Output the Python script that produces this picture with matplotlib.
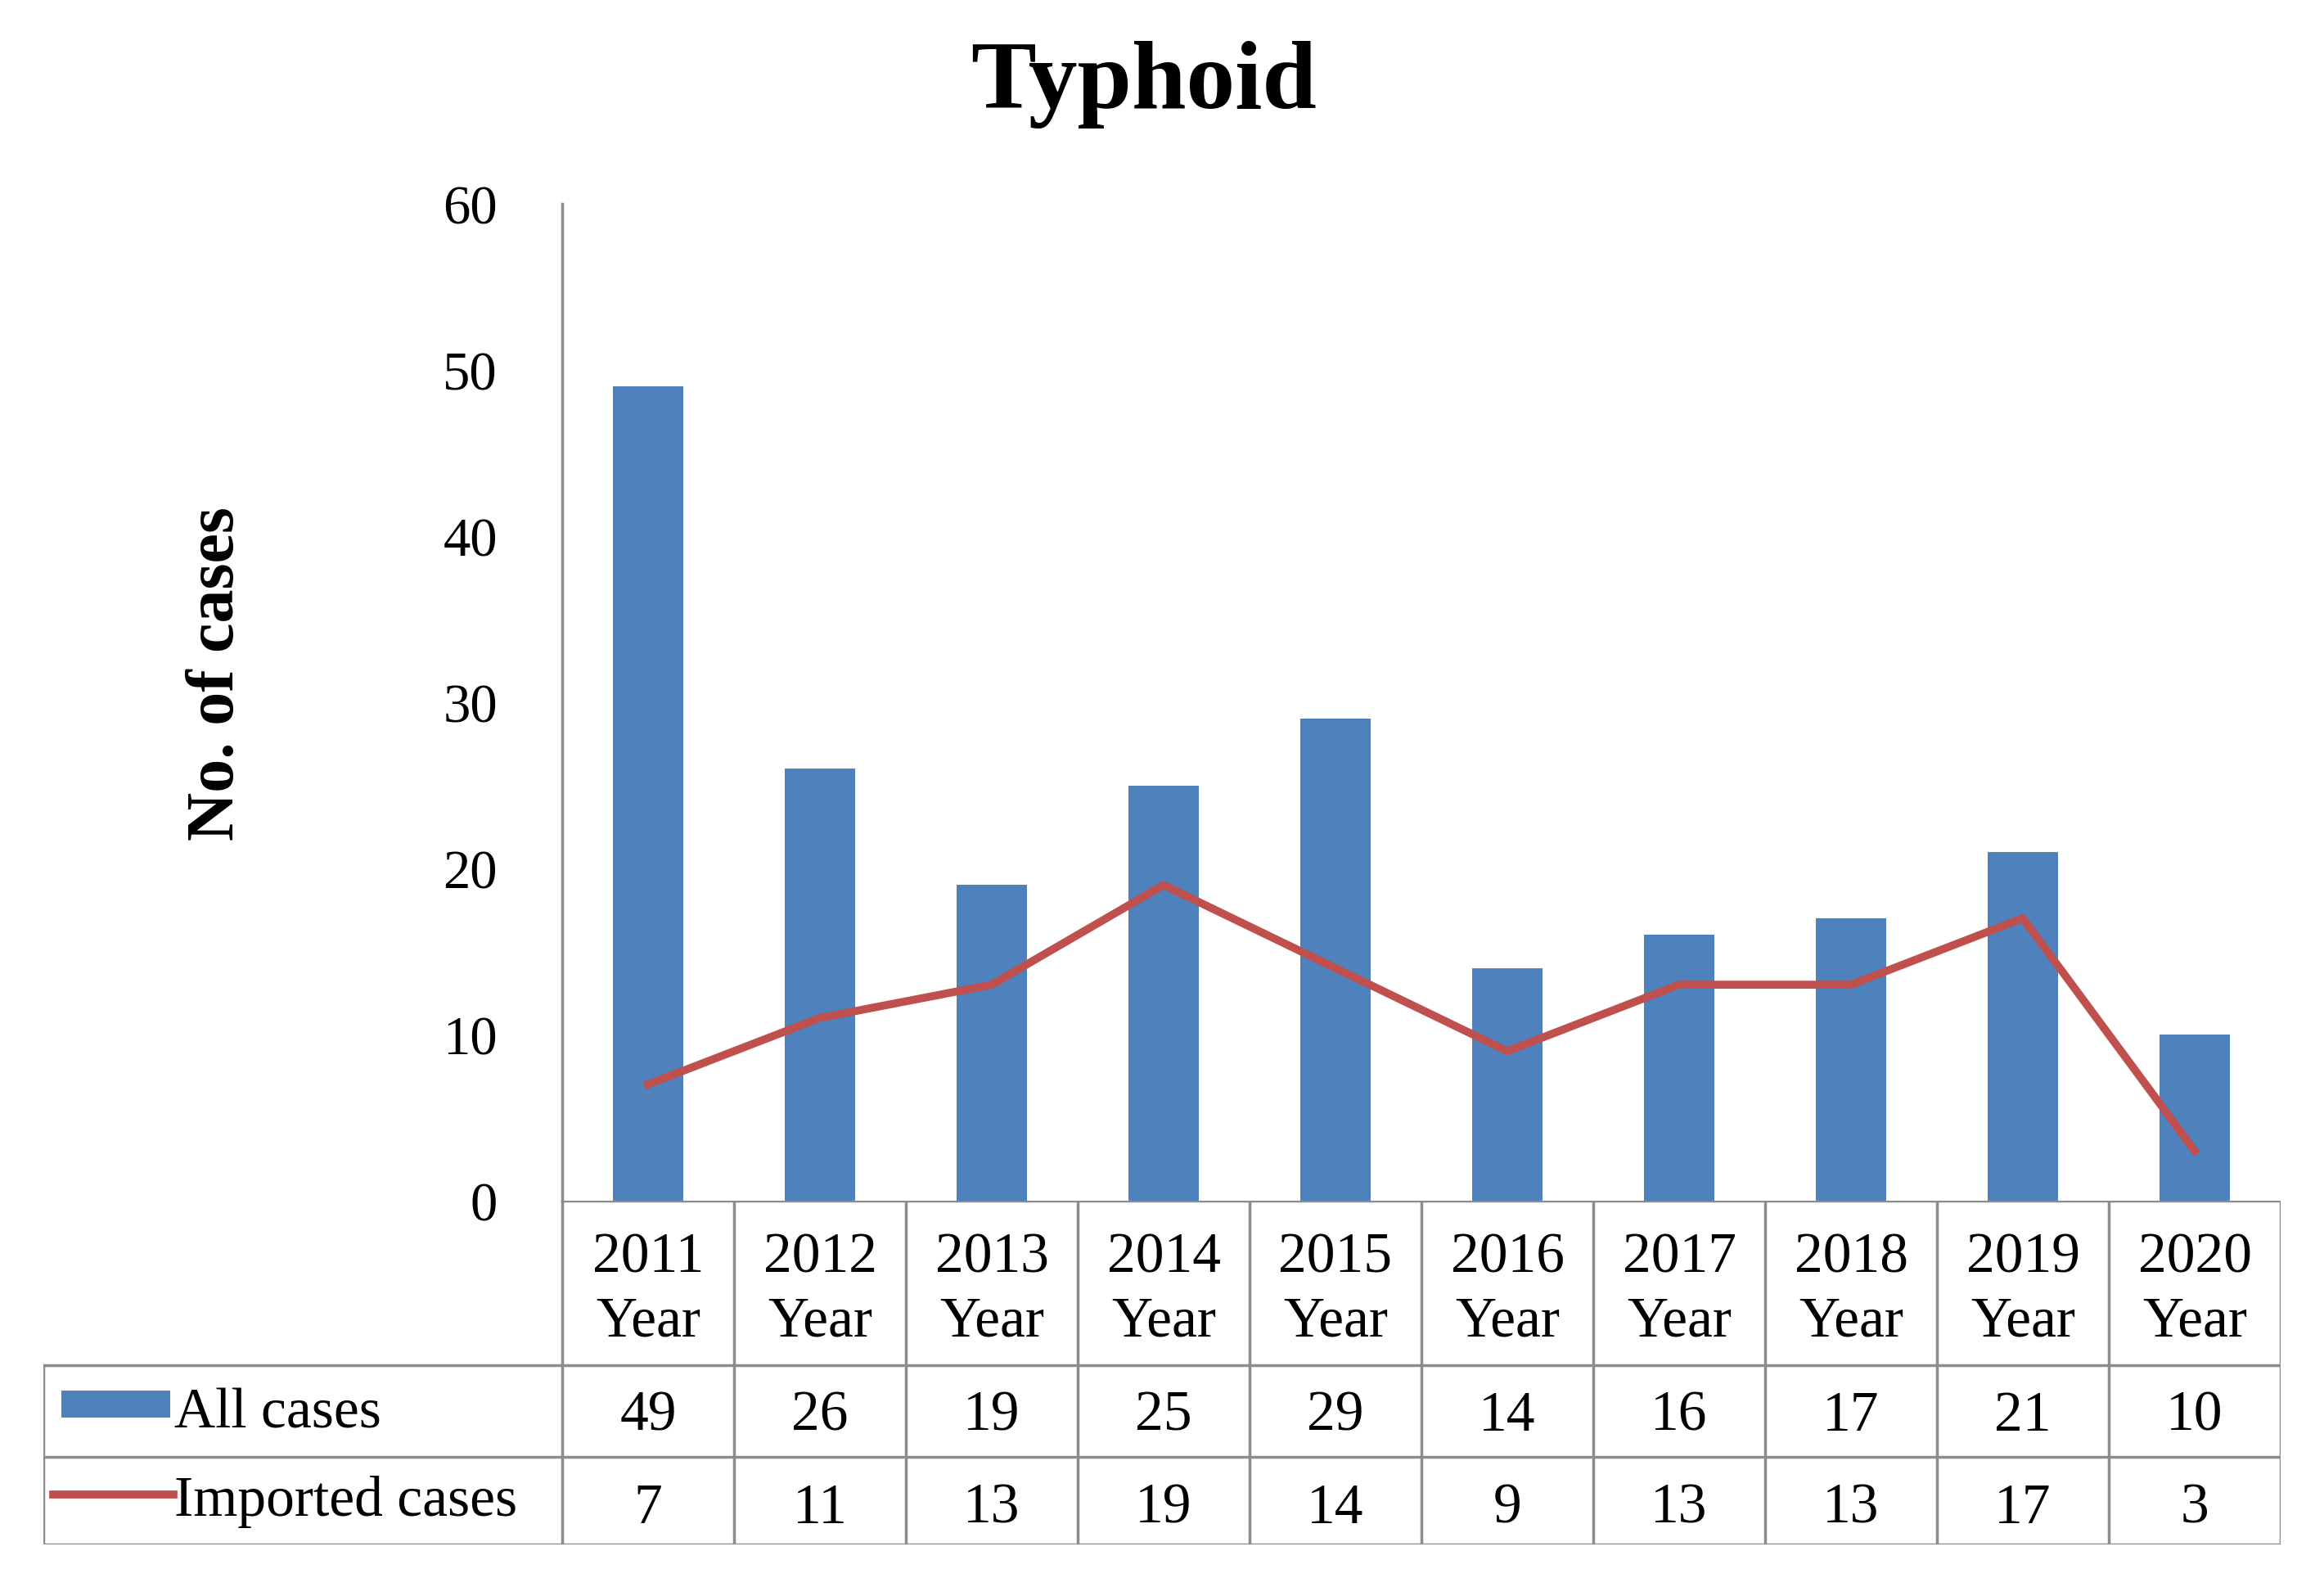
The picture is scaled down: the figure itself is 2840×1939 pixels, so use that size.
#!/usr/bin/env python3

import matplotlib.pyplot as plt

years = ['2011', '2012', '2013', '2014', '2015', '2016', '2017', '2018', '2019', '2020']
all_cases = [49, 26, 19, 25, 29, 14, 16, 17, 21, 10]
imported_cases = [7, 11, 13, 19, 14, 9, 13, 13, 17, 3]
series_names = ['All cases', 'Imported cases']
y_ticks = [0, 10, 20, 30, 40, 50, 60]

BLUE = '#4F81BD'
RED = '#C0504D'
GRID = '#8C8C8C'
SERIF = ['Liberation Serif', 'DejaVu Serif']

W, H = 2840, 1940


def main():
    plt.rcParams['font.family'] = SERIF
    fig = plt.figure(figsize=(W / 100, H / 100), dpi=100)

    # pixel layout of the original chart
    ax_l, ax_r, ax_t, ax_b = 687, 2787, 250, 1468
    tab_l, tab_b = 53, 1888
    cat_w = (ax_r - ax_l) / len(years)

    ax = fig.add_axes([ax_l / W, 1 - ax_b / H, (ax_r - ax_l) / W, (ax_b - ax_t) / H])
    x = list(range(len(years)))
    ax.bar(x, all_cases, width=0.41, color=BLUE, zorder=2)
    ax.plot(x, imported_cases, color=RED, lw=7, zorder=3)
    ax.set_xlim(-0.5, len(years) - 0.5)
    ax.set_ylim(0, 60)
    ax.set_yticks(y_ticks)
    ax.tick_params(axis='y', length=0, pad=57, labelsize=48)
    ax.set_xticks([])
    for side in ['top', 'right', 'bottom']:
        ax.spines[side].set_visible(False)
    ax.spines['left'].set_color(GRID)
    ax.spines['left'].set_linewidth(2.5)

    # data table underneath; y in pixels up from the table bottom
    n = len(years)
    left = -0.5 - (ax_l - tab_l) / cat_w
    tab = fig.add_axes([tab_l / W, 1 - tab_b / H, (ax_r - tab_l) / W, (tab_b - ax_b) / H])
    tab.set_xlim(left, n - 0.5)
    tab.set_ylim(0, tab_b - ax_b)
    tab.axis('off')
    rows = [0, 107, 219, tab_b - ax_b]
    lw = 2.5
    tab.plot([-0.5, n - 0.5], [rows[3], rows[3]], color=GRID, lw=lw)
    for r in rows[:3]:
        tab.plot([left, n - 0.5], [r, r], color=GRID, lw=lw)
    for i in range(n + 1):
        tab.plot([i - 0.5, i - 0.5], [rows[0], rows[3]], color=GRID, lw=lw)
    tab.plot([left, left], [rows[0], rows[2]], color=GRID, lw=lw)

    fs = 50
    for i, yr in enumerate(years):
        tab.text(i, 333, yr, ha='center', va='baseline', fontsize=fs)
        tab.text(i, 255, 'Year', ha='center', va='baseline', fontsize=fs)
    for i, v in enumerate(all_cases):
        tab.text(i, 140, str(v), ha='center', va='baseline', fontsize=fs)
    for i, v in enumerate(imported_cases):
        tab.text(i, 27, str(v), ha='center', va='baseline', fontsize=fs)

    # legend keys inside the table
    px = 1 / cat_w
    tab.fill_between([left + (75 - tab_l) * px, left + (208 - tab_l) * px],
                     tab_b - 1733, tab_b - 1700, color=BLUE, lw=0)
    tab.plot([left + (65 - tab_l) * px, left + (212 - tab_l) * px],
             [tab_b - 1827, tab_b - 1827], color=RED, lw=7)
    tx = left + (213 - tab_l) * px
    tab.text(tx, 143, series_names[0], ha='left', va='baseline', fontsize=fs)
    tab.text(tx, 36, series_names[1], ha='left', va='baseline', fontsize=fs)

    fig.text(1398 / W, 1 - 132 / H, 'Typhoid', ha='center', va='baseline',
             fontsize=86, fontweight='bold')
    fig.text(265 / W, 1 - 823 / H, 'No. of cases', ha='center', va='center',
             rotation=90, fontsize=59, fontweight='bold')

    plt.savefig('out.png', dpi=100)


if __name__ == '__main__':
    main()
